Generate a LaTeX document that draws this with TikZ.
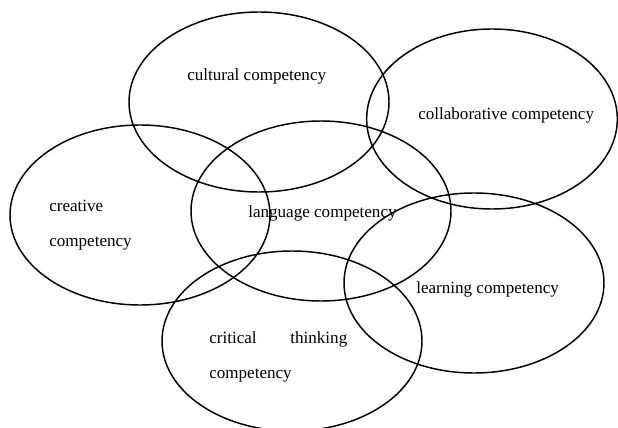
\documentclass[tikz,border=0pt]{standalone}
\usepackage{fontspec}
\setmainfont{Liberation Serif}
\usetikzlibrary{shapes.geometric}

\begin{document}
\begin{tikzpicture}[x=0.75pt, y=-0.75pt,
    ring/.style={draw, ellipse, line width=1.1pt, minimum width=195pt, minimum height=135pt, inner sep=0pt},
    label/.style={font=\fontsize{12.8}{26.25}\selectfont, inner sep=0pt, align=left}]
  \useasboundingbox (0,0) rectangle (618,428);

  % Competency rings
  \node[ring] (cultural) at (259,102) {};
  \node[ring, minimum width=188pt] (collab) at (492,119) {};
  \node[ring] (creative) at (140,215) {};
  \node[ring] (language) at (321,211) {};
  \node[ring] (learning) at (474,283) {};
  \node[ring] (critical) at (292,341) {};

  % Labels inside the rings
  \node[label, anchor=base west] (culturaltext) at (187,80.5) {cultural competency};
  \node[label, anchor=base west] (collabtext) at (418,119) {collaborative competency};
  \node[label, anchor=west] (creativetext) at (49,225.5) {creative\\competency};
  \node[label, anchor=base west] (languagetext) at (248,217) {language competency};
  \node[label, anchor=base west] (learningtext) at (416,293) {learning competency};
  \node[label, anchor=west, text width=103.5pt] (criticaltext) at (209,357) {critical\hfill thinking\\competency};

\end{tikzpicture}
\end{document}
